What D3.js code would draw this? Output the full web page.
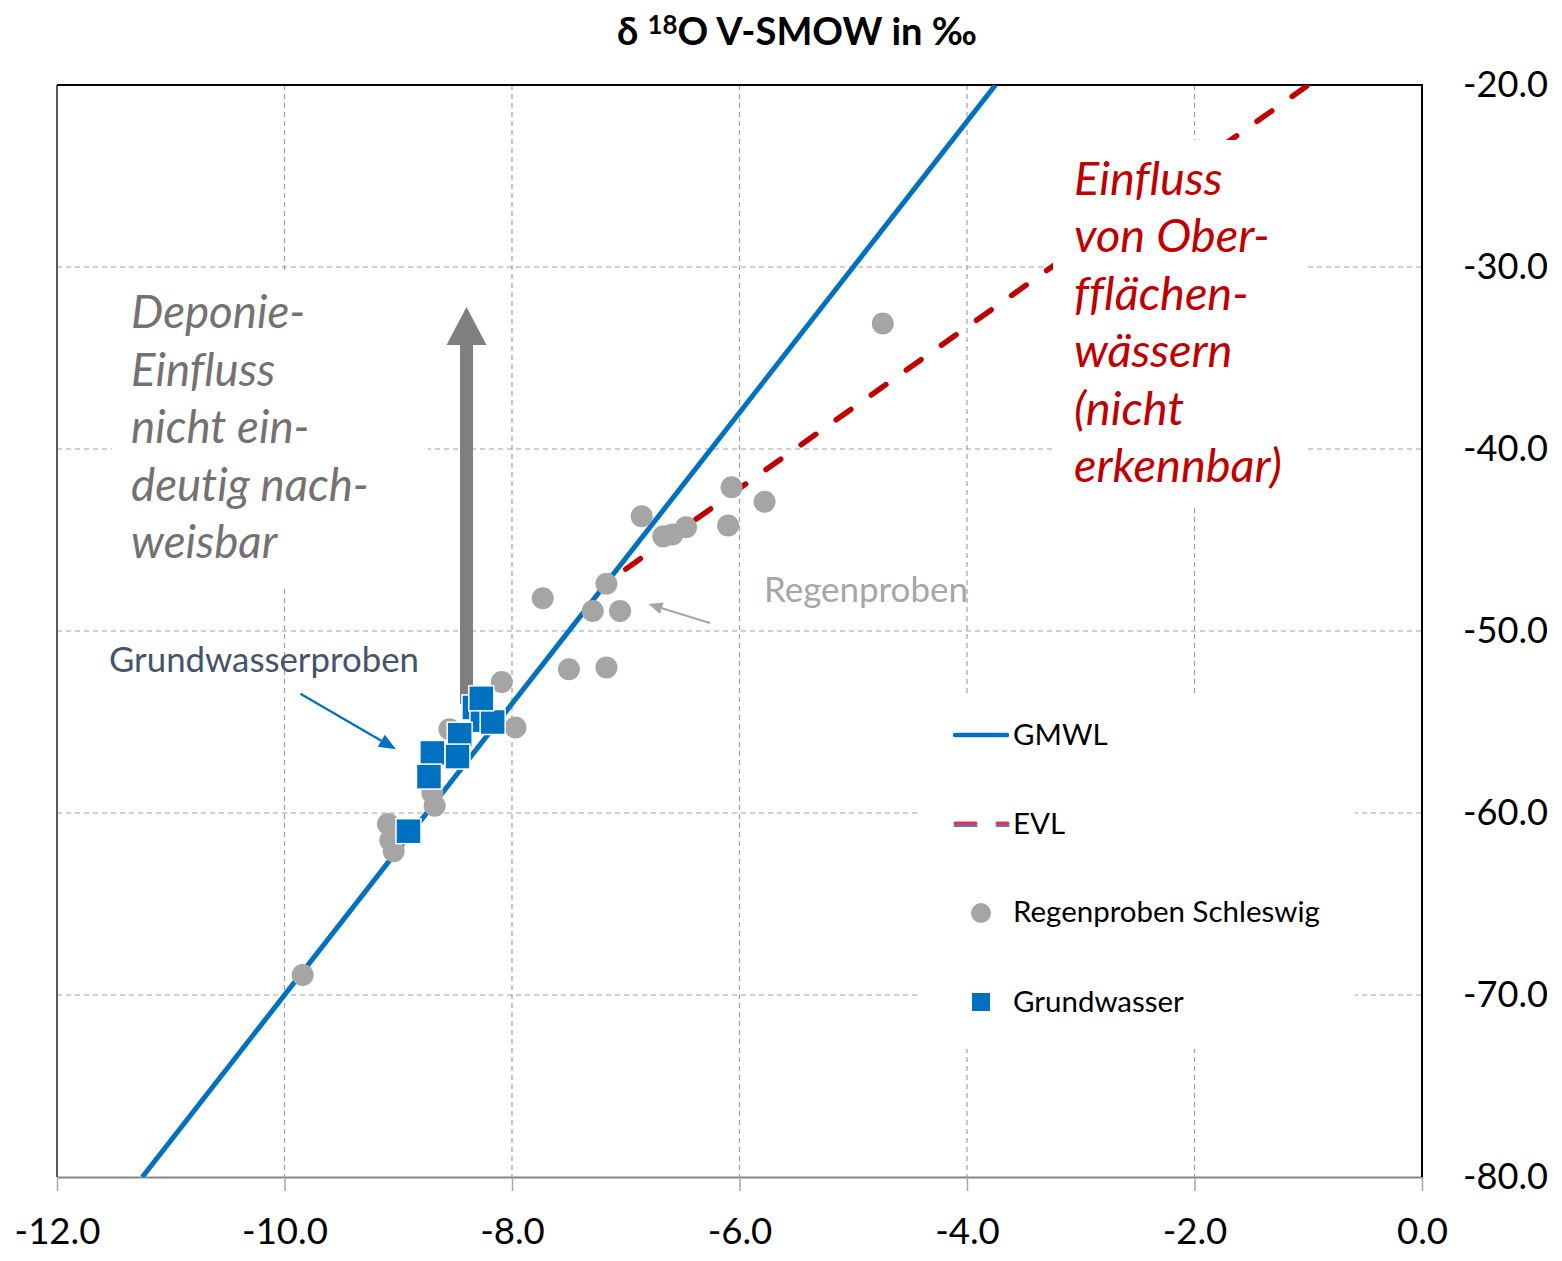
<!DOCTYPE html>
<html>
<head>
<meta charset="utf-8">
<script src="https://cdn.jsdelivr.net/npm/d3@7"></script>
<style>
  html, body { margin: 0; padding: 0; background: #fff; }
  svg { display: block; font-family: Lato, "Open Sans", sans-serif; }
  svg text, svg tspan {
    font-variant-ligatures: none;
    font-feature-settings: "liga" 0, "clig" 0, "dlig" 0, "hlig" 0, "calt" 0;
  }
</style>
</head>
<body>
<svg id="chart" width="1562" height="1261"></svg>
<script>
// Isotope data: δ18O (x) vs δ2H (y), both in ‰ V-SMOW
const xTicks = [-12, -10, -8, -6, -4, -2, 0];
const yTicks = [-80, -70, -60, -50, -40, -30, -20];

// Global meteoric water line and evaporation line (end points)
const gmwl = [[-11.25, -80], [-3.75, -20]];
const evl = [[-7.0, -46.6], [-1.0, -20.0]];

// Rain samples, Schleswig
const rainO = [-4.74, -6.86, -6.07, -5.78, -6.10, -6.47, -6.67, -6.59, -7.17, -7.73, -7.29, -7.05,
               -7.50, -7.17, -8.09, -7.97, -8.55, -8.70, -8.68, -9.09, -9.07, -9.04, -9.84];
const rainH = [-33.1, -43.7, -42.1, -42.9, -44.2, -44.3, -44.8, -44.7, -47.4, -48.2, -48.9, -48.9,
               -52.1, -52.0, -52.8, -55.3, -55.4, -58.9, -59.6, -60.6, -61.5, -62.1, -68.9];

// Groundwater samples
const gwO = [-8.33, -8.26, -8.17, -8.27, -8.46, -8.48, -8.70, -8.73, -8.91];
const gwH = [-54.2, -54.9, -55.0, -53.7, -55.7, -56.9, -56.7, -58.0, -61.0];

// Annotation arrows in data coordinates [from, to]
const landfillArrow = [[-8.40, -54.0], [-8.40, -32.2]];
const gwArrow = [[-9.86, -53.45], [-9.02, -56.5]];
const rainArrow = [[-6.26, -49.56], [-6.80, -48.52]];

const landfillText = ["Deponie-", "Einfluss", "nicht ein-", "deutig nach-", "weisbar"];
const surfaceText = ["Einfluss", "von Ober-", "fflächen-", "wässern", "(nicht", "erkennbar)"];

const svg = d3.select("#chart");
const L = 57, R = 1422, T = 85, B = 1177;
const x = d3.scaleLinear().domain([-12, 0]).range([L, R]);
const y = d3.scaleLinear().domain([-80, -20]).range([B, T]);
const fmt = d3.formatLocale({decimal: ".", thousands: ",", grouping: [3], currency: ["", ""], minus: "-"}).format(".1f");

// scale a text's font size so its rendered width equals w
function fit(sel, w) {
  const fs = parseFloat(sel.attr("font-size"));
  const cw = sel.node().getComputedTextLength();
  const nfs = fs * w / cw;
  sel.attr("font-size", nfs);
  return nfs;
}

svg.append("defs").append("clipPath").attr("id", "plotclip")
  .append("rect").attr("x", L).attr("y", T).attr("width", R - L).attr("height", B - T);

// grid
const grid = svg.append("g").attr("stroke", "#a0a0a0").attr("stroke-width", 1.2).attr("stroke-dasharray", "5,4");
grid.selectAll(".gx").data(xTicks.slice(1, -1)).join("line")
  .attr("x1", d => x(d)).attr("x2", d => x(d)).attr("y1", T).attr("y2", B);
grid.selectAll(".gy").data(yTicks.slice(1, -1)).join("line")
  .attr("y1", d => y(d)).attr("y2", d => y(d)).attr("x1", L).attr("x2", R);

// bottom axis
const xAxis = svg.append("g").attr("transform", `translate(0,${B})`)
  .call(d3.axisBottom(x).tickValues(xTicks).tickFormat(fmt).tickSize(14).tickPadding(27).tickSizeOuter(0));
xAxis.select(".domain").attr("stroke", "#868686").attr("stroke-width", 2);
xAxis.selectAll(".tick line").attr("stroke", "#a6a6a6").attr("stroke-width", 1.5);
xAxis.selectAll("text").attr("fill", "#000").attr("font-family", "Lato").attr("font-size", 38);
const xfs = fit(xAxis.select(".tick text"), 86);
xAxis.selectAll("text").attr("font-size", xfs);

// right value axis labels
const yAxis = svg.append("g").attr("transform", `translate(${R},0)`)
  .call(d3.axisRight(y).tickValues(yTicks).tickFormat(fmt).tickSize(0).tickPadding(41));
yAxis.select(".domain").remove();
yAxis.selectAll("text").attr("fill", "#000").attr("font-family", "Lato").attr("font-size", 38);
const yfs = fit(yAxis.select(".tick:last-of-type text"), 85);
yAxis.selectAll("text").attr("font-size", yfs);

// plot frame
svg.append("line").attr("x1", L).attr("x2", L).attr("y1", T).attr("y2", B).attr("stroke", "#595959").attr("stroke-width", 2);
svg.append("line").attr("x1", L).attr("x2", R + 1).attr("y1", T).attr("y2", T).attr("stroke", "#000").attr("stroke-width", 2);
svg.append("line").attr("x1", R).attr("x2", R).attr("y1", T).attr("y2", B).attr("stroke", "#000").attr("stroke-width", 2);

const plot = svg.append("g").attr("clip-path", "url(#plotclip)");
const line = d3.line().x(d => x(d[0])).y(d => y(d[1]));

// landfill influence arrow (drawn beneath the samples)
function blockArrow(g, pts, shaft, headW, headL, color) {
  const x0 = x(pts[0][0]), y0 = y(pts[0][1]), y1 = y(pts[1][1]);
  const p = [[x0 - shaft / 2, y0], [x0 - shaft / 2, y1 + headL], [x0 - headW / 2, y1 + headL], [x0, y1],
             [x0 + headW / 2, y1 + headL], [x0 + shaft / 2, y1 + headL], [x0 + shaft / 2, y0]];
  g.append("path").attr("d", "M" + p.join("L") + "Z").attr("fill", color);
}
blockArrow(svg, landfillArrow, 13, 40, 38, "#7f7f7f");

plot.append("path").datum(gmwl).attr("d", line)
  .attr("fill", "none").attr("stroke", "#0070c0").attr("stroke-width", 5);
plot.append("path").datum(evl).attr("d", line)
  .attr("fill", "none").attr("stroke", "#c00000").attr("stroke-width", 5.5)
  .attr("stroke-linecap", "round").attr("stroke-dasharray", "18,25");

const rain = rainO.map((v, i) => [v, rainH[i]]);
const gw = gwO.map((v, i) => [v, gwH[i]]);

svg.append("g").selectAll("circle").data(rain).join("circle")
  .attr("cx", d => x(d[0])).attr("cy", d => y(d[1])).attr("r", 11).attr("fill", "#a5a5a5");

const sq = 25;
svg.append("g").selectAll("rect").data(gw).join("rect")
  .attr("x", d => x(d[0]) - sq / 2).attr("y", d => y(d[1]) - sq / 2)
  .attr("width", sq).attr("height", sq)
  .attr("fill", "#0070c0").attr("stroke", "#fff").attr("stroke-width", 1.5);

// thin arrows with triangular heads
function thinArrow(pts, color, width, headL, headW) {
  const x0 = x(pts[0][0]), y0 = y(pts[0][1]), x1 = x(pts[1][0]), y1 = y(pts[1][1]);
  const ang = Math.atan2(y1 - y0, x1 - x0);
  const bx = x1 - headL * Math.cos(ang), by = y1 - headL * Math.sin(ang);
  svg.append("line").attr("x1", x0).attr("y1", y0).attr("x2", bx).attr("y2", by)
    .attr("stroke", color).attr("stroke-width", width);
  const nx = -Math.sin(ang) * headW / 2, ny = Math.cos(ang) * headW / 2;
  svg.append("path").attr("d", `M${x1},${y1}L${bx + nx},${by + ny}L${bx - nx},${by - ny}Z`).attr("fill", color);
}
thinArrow(gwArrow, "#0070c0", 2.2, 17, 14);
thinArrow(rainArrow, "#a6a6a6", 2.2, 14, 12);

// text boxes
function textBox(box, lines, x0, base0, step, color, targetIdx, targetW) {
  svg.append("rect").attr("x", box[0]).attr("y", box[1]).attr("width", box[2] - box[0]).attr("height", box[3] - box[1]).attr("fill", "#fff");
  const t = svg.append("g").attr("fill", color).attr("font-style", "italic").attr("font-family", "Lato");
  const texts = t.selectAll("text").data(lines).join("text")
    .attr("x", x0).attr("y", (d, i) => base0 + i * step).attr("font-size", 38)
    .style("font-variant-ligatures", "none")
    .style("font-feature-settings", '"liga" 0, "clig" 0, "dlig" 0')
    .text(d => d);
  const fs = fit(d3.select(texts.nodes()[targetIdx]), targetW);
  texts.attr("font-size", fs);
}
textBox([112, 273, 428, 585], landfillText, 131, 328, 57.5, "#767171", 3, 238);
textBox([1053, 140, 1307, 508], surfaceText, 1074, 195, 57.4, "#c00000", 5, 208);

const regen = svg.append("text").attr("x", 764).attr("y", 602).attr("fill", "#a6a6a6")
  .attr("font-size", 30).text("Regenproben");
fit(regen, 204);
const gwLab = svg.append("text").attr("x", 109).attr("y", 672).attr("fill", "#44546a")
  .attr("font-size", 30).text("Grundwasserproben");
fit(gwLab, 310);

// title
const title = svg.append("text").attr("x", 797).attr("y", 45).attr("text-anchor", "middle")
  .attr("font-weight", "bold").attr("font-size", 32).attr("fill", "#000");
title.append("tspan").text("δ ");
title.append("tspan").attr("font-size", "0.68em").attr("dy", "-0.42em").text("18");
title.append("tspan").attr("dy", "0.29em").text("O V-SMOW in ‰");
fit(title, 360);

// legend
svg.append("rect").attr("x", 920).attr("y", 693).attr("width", 435).attr("height", 356).attr("fill", "#fff");
const lg = svg.append("g");
lg.append("line").attr("x1", 955).attr("x2", 1007).attr("y1", 735).attr("y2", 735)
  .attr("stroke", "#0070c0").attr("stroke-width", 4.5).attr("stroke-linecap", "round");
[[955, 976], [997, 1008]].forEach(s => {
  lg.append("line").attr("x1", s[0]).attr("x2", s[1]).attr("y1", 825.5).attr("y2", 825.5)
    .attr("stroke", "#6a6abf").attr("stroke-width", 3).attr("stroke-linecap", "round");
  lg.append("line").attr("x1", s[0]).attr("x2", s[1]).attr("y1", 823).attr("y2", 823)
    .attr("stroke", "#e8324c").attr("stroke-width", 3).attr("stroke-linecap", "round");
});
lg.append("circle").attr("cx", 981).attr("cy", 913).attr("r", 10).attr("fill", "#a5a5a5");
lg.append("rect").attr("x", 972).attr("y", 993).attr("width", 18).attr("height", 18).attr("fill", "#0070c0");
const legTexts = [["GMWL", 745], ["EVL", 834], ["Regenproben Schleswig", 922], ["Grundwasser", 1012]];
const lt = lg.selectAll("text.leg").data(legTexts).join("text").attr("class", "leg")
  .attr("x", 1013).attr("y", d => d[1]).attr("font-size", 27).attr("fill", "#000").text(d => d[0]);
const lfs = fit(d3.select(lt.nodes()[2]), 307);
lt.attr("font-size", lfs);
</script>
</body>
</html>
